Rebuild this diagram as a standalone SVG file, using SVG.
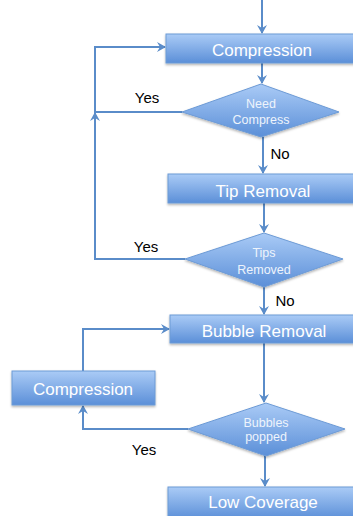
<svg xmlns="http://www.w3.org/2000/svg" width="353" height="516" viewBox="0 0 353 516">
<defs>
<linearGradient id="g" x1="0" y1="0" x2="0" y2="1">
<stop offset="0" stop-color="#aacbf6"/>
<stop offset="1" stop-color="#5b8fd8"/>
</linearGradient>
<filter id="sh" x="-10%" y="-20%" width="130%" height="150%">
<feDropShadow dx="0" dy="1.5" stdDeviation="1.2" flood-color="#000" flood-opacity="0.3"/>
</filter>
<marker id="ah" markerWidth="10" markerHeight="10" refX="8" refY="5" orient="auto" markerUnits="userSpaceOnUse">
<path d="M0,0 L9,5 L0,10 L3,5 Z" fill="#5a8cc9"/>
</marker>
<style>
.box{fill:url(#g);stroke:#6d9bd6;stroke-width:1;filter:url(#sh)}
.t{font-family:"Liberation Sans",Arial,sans-serif;font-size:17px;fill:#ffffff;text-anchor:middle}
.d{font-family:"Liberation Sans",Arial,sans-serif;font-size:12.5px;fill:#eef4fc;text-anchor:middle}
.l{font-family:"Liberation Sans",Arial,sans-serif;font-size:15px;fill:#000;text-anchor:middle}
.c{fill:none;stroke:#5a8cc9;stroke-width:2}
</style>
</defs>
<g id="connectors">
<path class="c" d="M262,0 V33" marker-end="url(#ah)"/>
<path class="c" d="M262,63 V83" marker-end="url(#ah)"/>
<path class="c" d="M182,112 H95 V47 H165" marker-end="url(#ah)"/>
<path class="c" d="M263,137 V173" marker-end="url(#ah)"/>
<path class="c" d="M264,203 V232" marker-end="url(#ah)"/>
<path class="c" d="M185,259 H95 V113" marker-end="url(#ah)"/>
<path class="c" d="M264,287 V314" marker-end="url(#ah)"/>
<path class="c" d="M264,343 V402" marker-end="url(#ah)"/>
<path class="c" d="M188,429 H83 V406" marker-end="url(#ah)"/>
<path class="c" d="M83,371 V329 H169" marker-end="url(#ah)"/>
<path class="c" d="M265,456 V486" marker-end="url(#ah)"/>
<text class="l" x="147" y="103">Yes</text>
<text class="l" x="280" y="159">No</text>
<text class="l" x="146" y="252">Yes</text>
<text class="l" x="285" y="306">No</text>
<text class="l" x="144" y="455">Yes</text>
</g>
<g id="compression1">
<rect class="box" x="166" y="34" width="192" height="29"/>
<text class="t" x="262" y="56">Compression</text>
</g>
<g id="need-compress">
<polygon class="box" points="261,84 339,112 261,137 182,112"/>
<text class="d" x="261" y="108">Need</text>
<text class="d" x="261" y="124">Compress</text>
</g>
<g id="tip-removal">
<rect class="box" x="168" y="174" width="190" height="29"/>
<text class="t" x="263" y="197">Tip Removal</text>
</g>
<g id="tips-removed">
<polygon class="box" points="264,233 343,259 264,287 185,259"/>
<text class="d" x="264" y="257">Tips</text>
<text class="d" x="264" y="274">Removed</text>
</g>
<g id="bubble-removal">
<rect class="box" x="170" y="315" width="190" height="28"/>
<text class="t" x="264" y="337">Bubble Removal</text>
</g>
<g id="compression2">
<rect class="box" x="12" y="371" width="143" height="34"/>
<text class="t" x="83" y="395">Compression</text>
</g>
<g id="bubbles-popped">
<polygon class="box" points="266,403 345,429 266,456 188,429"/>
<text class="d" x="266" y="427">Bubbles</text>
<text class="d" x="266" y="441">popped</text>
</g>
<g id="low-coverage">
<rect class="box" x="168" y="487" width="190" height="32"/>
<text class="t" x="263" y="508">Low Coverage</text>
</g>
</svg>
